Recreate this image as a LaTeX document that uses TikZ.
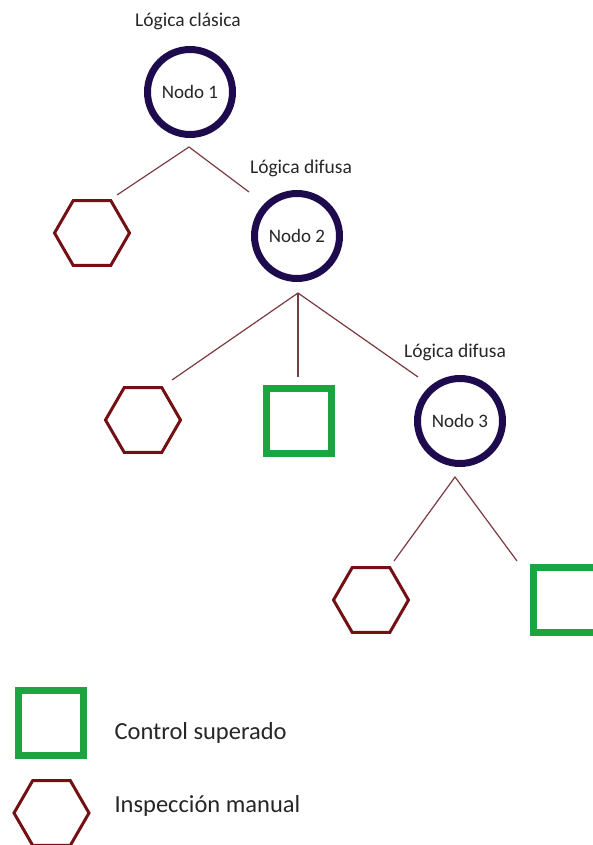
\documentclass[tikz,border=0pt]{standalone}
\usepackage{fontspec}
\setmainfont{Carlito}
\usetikzlibrary{shapes.geometric}
\definecolor{nodeblue}{HTML}{1E0B4E}
\definecolor{linkred}{HTML}{7A3A40}
\definecolor{hexred}{HTML}{741014}
\definecolor{okgreen}{HTML}{1BA540}
\tikzset{
  decision/.style={circle, draw=nodeblue, line width=7pt, minimum size=85pt,
    inner sep=0pt, font=\fontsize{19}{22}\selectfont, text=black!85},
  manual/.style={regular polygon, regular polygon sides=6, draw=hexred,
    line width=3pt, minimum size=75pt, inner sep=0pt},
  passed/.style={rectangle, draw=okgreen, line width=7pt, minimum size=65pt,
    inner sep=0pt},
  link/.style={draw=linkred, line width=1.2pt},
  caption/.style={font=\fontsize{19.5}{22}\selectfont, text=black!85},
  legendtext/.style={font=\fontsize{24.5}{28}\selectfont, text=black!85, anchor=west}
}
\begin{document}
\begin{tikzpicture}[x=1pt, y=-1pt]
\useasboundingbox (0,0) rectangle (593,845);
\clip (0,0) rectangle (593,845);

% decision nodes with their headings
\node[decision] (n1) at (190,92) {Nodo 1};
\node[caption] (t1) at (188,21) {Lógica clásica};
\node[decision] (n2) at (297,236) {Nodo 2};
\node[caption] (t2) at (301,168) {Lógica difusa};
\node[decision] (n3) at (460,421) {Nodo 3};
\node[caption] (t3) at (455,352) {Lógica difusa};

% outcome leaves
\node[manual] (h1) at (92,233) {};
\node[manual] (h2) at (143,420) {};
\node[passed] (s1) at (299,421) {};
\node[manual] (h3) at (371,600) {};
\node[passed] (s2) at (566,600) {};

% branch points and branch ends
\coordinate (b1) at (189,147);
\coordinate (b1l) at (117,195);
\coordinate (b1r) at (249,192);
\coordinate (b2) at (298,293);
\coordinate (b2l) at (172,380);
\coordinate (b2m) at (298,377);
\coordinate (b2r) at (418,377);
\coordinate (b3) at (455,477);
\coordinate (b3l) at (394,561);
\coordinate (b3r) at (517,561);

\draw[link] (b1l) -- (b1) -- (b1r);
\draw[link] (b2l) -- (b2) -- (b2r);
\draw[link] (b2) -- (b2m);
\draw[link] (b3l) -- (b3) -- (b3r);

% legend
\node[passed] (ls) at (51,723) {};
\node[legendtext] (lst) at (111,733) {Control superado};
\node[manual] (lh) at (51.5,813) {};
\node[legendtext] (lht) at (111,806) {Inspección manual};
\end{tikzpicture}
\end{document}
